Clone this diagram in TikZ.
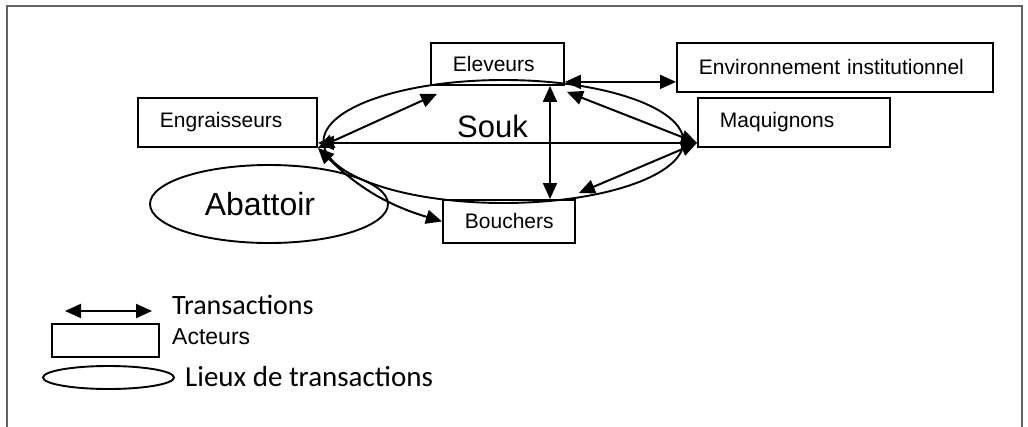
\documentclass[tikz,border=0pt]{standalone}
\usepackage{fontspec}
\setmainfont{Liberation Sans}
\newfontfamily\calib{Carlito}
\usetikzlibrary{shapes.geometric,arrows.meta,calc}
\definecolor{framegray}{RGB}{100,100,100}
\begin{document}
\begin{tikzpicture}[x=1pt,y=-1pt,
  box/.style={draw,line width=1.9pt,inner xsep=22pt,inner ysep=0pt,align=left,anchor=north west,font=\fontsize{21}{25}\selectfont},
  tr/.style={line width=2pt,{Triangle[length=16pt,width=14pt]}-{Triangle[length=16pt,width=14pt]}},
  lieu/.style={draw,ellipse,line width=1.9pt,inner sep=0pt}]
\clip (0,0) rectangle (1028,426);
\draw[line width=2.2pt,color=framegray] (7,6) rectangle (1022,460);
% actors
\node[box,text width=135pt,minimum height=49pt] (engr) at (137,97) {Engraisseurs};
\node[box,text width=89pt,minimum height=42pt] (elev) at (430,42) {Eleveurs};
\node[box,text width=272pt,minimum height=49pt] (env) at (676,42) {Environnement institutionnel};
\node[box,text width=148pt,minimum height=49pt] (maq) at (697,97) {Maquignons};
\node[box,text width=88pt,minimum height=43pt] (bouch) at (442,199) {Bouchers};
% places
\node[lieu,minimum width=360pt,minimum height=123pt] (souk) at (503.5,141.5) {};
\node[font=\fontsize{31}{36}\selectfont,inner sep=0pt] (soukt) at (492.5,126) {Souk};
\node[lieu,minimum width=238pt,minimum height=78pt] (abat) at (269,204) {};
\node[font=\fontsize{32}{36}\selectfont,inner sep=0pt] (abatt) at (260,204) {Abattoir};
% transactions
\coordinate (vx) at (550,0);
\draw[tr] ([yshift=5pt]engr.south east) -- ([yshift=5pt]maq.south west);
\draw[tr] (engr.south east) -- ($(elev.south west)+(7,8)$);
\draw[tr] (engr.south east) to[bend right=14] (bouch.west);
\draw[tr] ([yshift=4pt]elev.south east) -- ([yshift=4pt]elev.south east -| env.west);
\draw[tr] (elev.south -| vx) -- (bouch.north -| vx);
\draw[tr] ([yshift=5pt]maq.south west) -- ($(elev.south east)+(2,6)$);
\draw[tr] ([yshift=5pt]maq.south west) -- ($(bouch.north east)+(3,-6)$);
% legend
\coordinate (la) at (65,311);
\coordinate (lb) at (152,311);
\draw[tr] (la) -- (lb);
\node[draw,line width=1.9pt,minimum width=107pt,minimum height=33pt,inner sep=0pt] (lrect) at (105.5,340.5) {};
\node[lieu,minimum width=131pt,minimum height=23pt] (lell) at (108.5,377.5) {};
\node[anchor=west,inner sep=0pt,font=\calib\fontsize{28}{32}\selectfont] (ltr) at (172,305) {Transactions};
\node[anchor=west,inner sep=0pt,font=\fontsize{23}{27}\selectfont] (lact) at (172,337) {Acteurs};
\node[anchor=west,inner sep=0pt,font=\calib\fontsize{29}{33}\selectfont] (llieu) at (185,377) {Lieux de transactions};
\end{tikzpicture}
\end{document}
